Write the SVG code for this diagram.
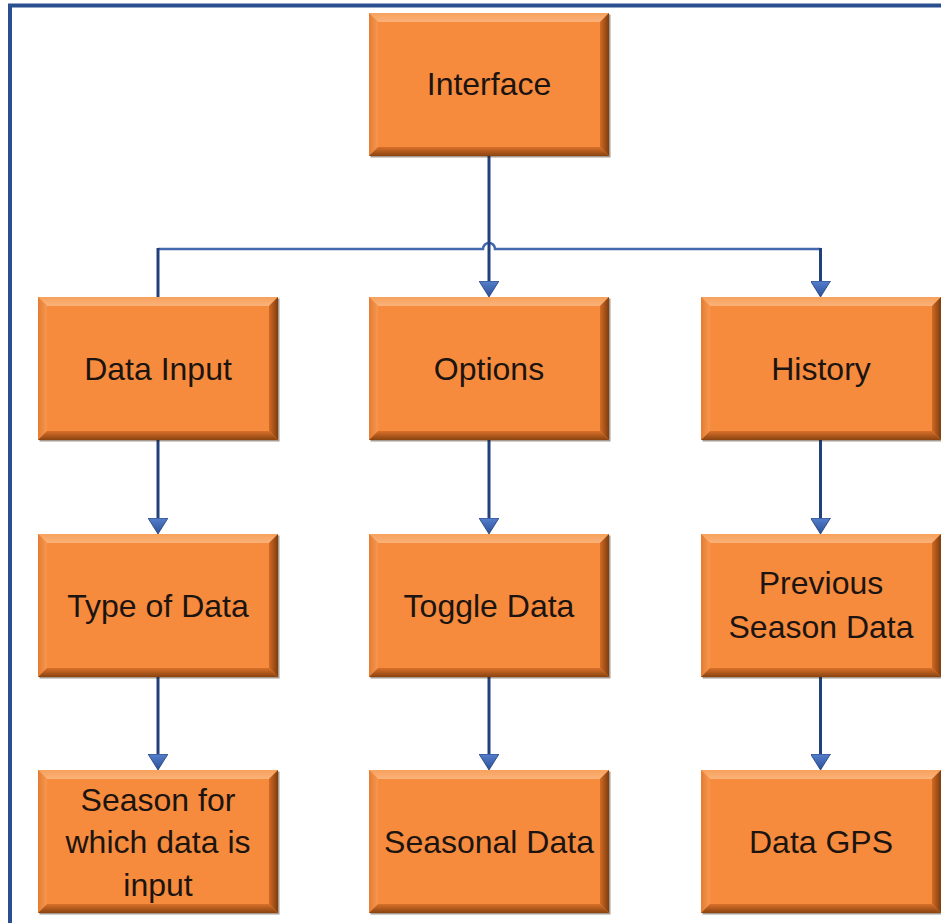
<svg xmlns="http://www.w3.org/2000/svg" xmlns:xlink="http://www.w3.org/1999/xlink" width="941" height="923" viewBox="0 0 941 923">
<style>
.lbl{font-family:"Liberation Sans",Arial,sans-serif;font-size:32px;fill:#1c1410;text-anchor:middle}
.con{fill:none;stroke:#22407a;stroke-width:3}
.hcon{fill:none;stroke:#4468ad;stroke-width:2.5}
</style>
<defs>
<linearGradient id="gtop" x1="0" y1="0" x2="0" y2="1"><stop offset="0" stop-color="#f7a15c"/><stop offset="1" stop-color="#fbb27a"/></linearGradient>
<linearGradient id="gbot" x1="0" y1="0" x2="0" y2="1"><stop offset="0" stop-color="#d9702a"/><stop offset="1" stop-color="#8a4410"/></linearGradient>
<linearGradient id="gright" x1="0" y1="0" x2="1" y2="0"><stop offset="0" stop-color="#d26a24"/><stop offset="1" stop-color="#7d3d0e"/></linearGradient>
<linearGradient id="gleft" x1="0" y1="0" x2="1" y2="0"><stop offset="0" stop-color="#e47c33"/><stop offset="1" stop-color="#f7974f"/></linearGradient>
<linearGradient id="garrow" x1="0" y1="0" x2="1" y2="0"><stop offset="0" stop-color="#5580cc"/><stop offset="1" stop-color="#2a4f9a"/></linearGradient>
<symbol id="box" overflow="visible">
<rect x="1.5" y="1.5" width="240" height="143" fill="#3a1e08" opacity="0.45"/>
<rect x="0" y="0" width="240" height="143" fill="#f68b3e"/>
<polygon points="0,0 240,0 231,9 9,9" fill="url(#gtop)"/>
<polygon points="0,0 9,9 9,134 0,143" fill="url(#gleft)"/>
<polygon points="240,0 240,143 231,134 231,9" fill="url(#gright)"/>
<polygon points="0,143 240,143 231,134 9,134" fill="url(#gbot)"/>
</symbol>
<marker id="arr" viewBox="0 0 16 20" refX="6" refY="10" markerWidth="16" markerHeight="20" markerUnits="userSpaceOnUse" orient="auto">
<path d="M0,0 L16,10 L0,20 Z" fill="url(#garrow)" stroke="#1f3b73" stroke-width="0.8"/>
</marker>
</defs>
<rect width="941" height="923" fill="#ffffff"/>
<path d="M10,923 V5.5 H941" fill="none" stroke="#2a4f8f" stroke-width="4"/>

<g id="connectors">
<path class="hcon" d="M158,249 H483 A6,6 0 0 1 495,249 H820.5"/>
<path class="con" d="M158,297 V248"/>
<path class="con" d="M820.5,248 V287" marker-end="url(#arr)"/>
<path class="con" d="M489,156 V287" marker-end="url(#arr)"/>
<path class="con" d="M158,439 V524" marker-end="url(#arr)"/>
<path class="con" d="M489,439 V524" marker-end="url(#arr)"/>
<path class="con" d="M820.5,439 V524" marker-end="url(#arr)"/>
<path class="con" d="M158,676 V760" marker-end="url(#arr)"/>
<path class="con" d="M489,676 V760" marker-end="url(#arr)"/>
<path class="con" d="M820.5,676 V760" marker-end="url(#arr)"/>
</g>

<g id="interface" transform="translate(369,13)"><use xlink:href="#box"/><text class="lbl" x="120" y="82">Interface</text></g>

<g id="data-input" transform="translate(38,297)"><use xlink:href="#box"/><text class="lbl" x="120" y="83">Data Input</text></g>
<g id="options" transform="translate(369,297)"><use xlink:href="#box"/><text class="lbl" x="120" y="83">Options</text></g>
<g id="history" transform="translate(701,297)"><use xlink:href="#box"/><text class="lbl" x="120" y="83">History</text></g>

<g id="type-of-data" transform="translate(38,534)"><use xlink:href="#box"/><text class="lbl" x="120" y="83">Type of Data</text></g>
<g id="toggle-data" transform="translate(369,534)"><use xlink:href="#box"/><text class="lbl" x="120" y="83">Toggle Data</text></g>
<g id="previous-season-data" transform="translate(701,534)"><use xlink:href="#box"/><text class="lbl" x="120" y="60">Previous</text><text class="lbl" x="120" y="104">Season Data</text></g>

<g id="season-for-input" transform="translate(38,770)"><use xlink:href="#box"/><text class="lbl" x="120" y="41">Season for</text><text class="lbl" x="120" y="83">which data is</text><text class="lbl" x="120" y="126">input</text></g>
<g id="seasonal-data" transform="translate(369,770)"><use xlink:href="#box"/><text class="lbl" x="120" y="83">Seasonal Data</text></g>
<g id="data-gps" transform="translate(701,770)"><use xlink:href="#box"/><text class="lbl" x="120" y="83">Data GPS</text></g>
</svg>
